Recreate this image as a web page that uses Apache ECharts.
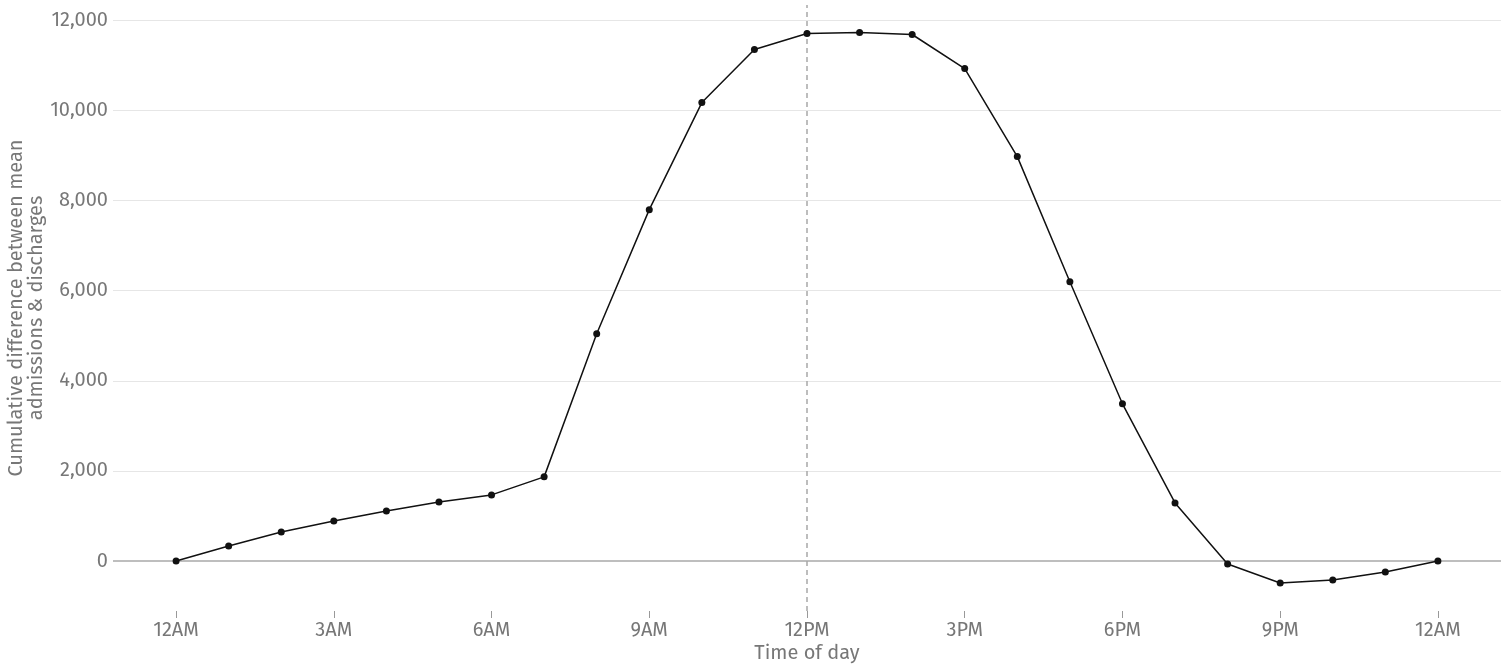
<!DOCTYPE html>
<html>
<head>
<meta charset="utf-8">
<script src="https://cdn.jsdelivr.net/npm/echarts@6/dist/echarts.min.js"></script>
<style>
  html, body { margin: 0; padding: 0; background: #fff; }
  #chart { width: 1504px; height: 668px; }
</style>
</head>
<body>
<div id="chart"></div>
<script>
// hour of day (0 = midnight, 24 = next midnight)
var hours = [0, 1, 2, 3, 4, 5, 6, 7, 8, 9, 10, 11, 12, 13, 14, 15, 16, 17, 18, 19, 20, 21, 22, 23, 24];
// cumulative difference between mean admissions & discharges
var cumDiff = [0, 333, 644, 889, 1111, 1311, 1467, 1867, 5044, 7800, 10178, 11356, 11711, 11733, 11689,
               10933, 8978, 6200, 3489, 1289, -67, -489, -422, -244, 0];
var xTicks = [0, 3, 6, 9, 12, 15, 18, 21, 24];
var xTickLabels = ['12AM', '3AM', '6AM', '9AM', '12PM', '3PM', '6PM', '9PM', '12AM'];
var yTicks = [0, 2000, 4000, 6000, 8000, 10000, 12000];

var fontFam = '"Fira Sans", "Noto Sans", sans-serif';
var myChart = echarts.init(document.getElementById('chart'));

var option = {
    animation: false,
    textStyle: { fontFamily: fontFam },
    grid: { left: 113, right: 3, top: 5, bottom: 57, outerBoundsMode: 'none', containLabel: false },
    xAxis: {
        type: 'value',
        min: -1.2,
        max: 25.2,
        name: 'Time of day',
        nameLocation: 'middle',
        nameGap: 32,
        nameMoveOverlap: false,
        nameTextStyle: { color: '#777', fontSize: 20, fontFamily: fontFam },
        axisLine: { show: false, onZero: false },
        axisTick: { show: true, customValues: xTicks, length: 7, lineStyle: { color: '#999' } },
        axisLabel: {
            customValues: xTicks,
            color: '#777',
            fontSize: 20,
            margin: 9,
            formatter: function (v) { return xTickLabels[xTicks.indexOf(v)]; }
        },
        splitLine: { show: false }
    },
    yAxis: {
        type: 'value',
        min: -1111,
        max: 12344,
        name: 'Cumulative difference between mean\nadmissions & discharges',
        nameLocation: 'middle',
        nameGap: 67,
        nameRotate: 90,
        nameMoveOverlap: false,
        nameTextStyle: { color: '#777', fontSize: 20, lineHeight: 20, fontFamily: fontFam },
        axisLine: { show: false, onZero: false },
        axisTick: { show: false, customValues: yTicks },
        axisLabel: {
            customValues: yTicks,
            color: '#777',
            fontSize: 20,
            margin: 5,
            formatter: function (v) { return v.toLocaleString('en-US'); }
        },
        splitLine: { show: false }
    },
    series: [{
        type: 'line',
        data: hours.map(function (h, i) { return [h, cumDiff[i]]; }),
        symbol: 'circle',
        symbolSize: 7,
        itemStyle: { color: '#111' },
        lineStyle: { color: '#111', width: 1.5 },
        z: 5,
        markLine: {
            silent: true,
            symbol: 'none',
            label: { show: false },
            data: yTicks.filter(function (v) { return v !== 0; }).map(function (v) {
                return { yAxis: v, lineStyle: { color: '#e6e6e6', width: 1, type: 'solid' } };
            }).concat([
                { yAxis: 0, lineStyle: { color: '#a8a8a8', width: 1.5, type: 'solid' } },
                { xAxis: 12, lineStyle: { color: '#a8a8a8', width: 1.5, type: [5, 4] } }
            ])
        }
    }]
};

myChart.setOption(option, true);
</script>
</body>
</html>
